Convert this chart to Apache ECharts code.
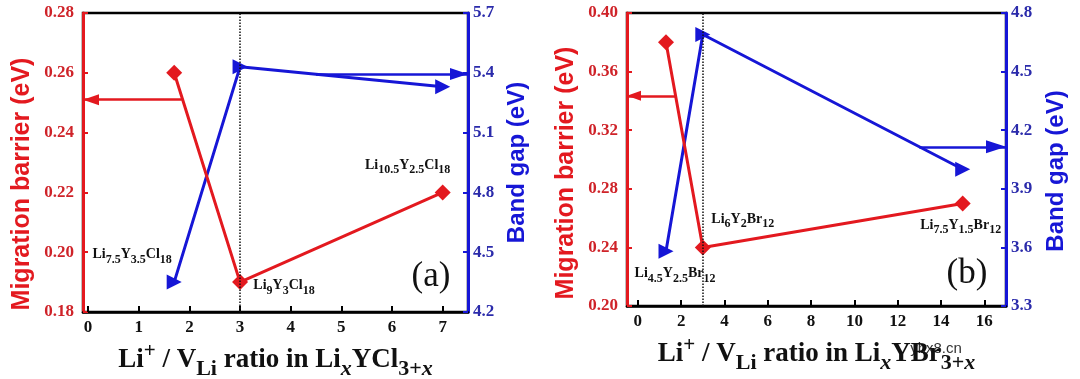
<!DOCTYPE html>
<html><head><meta charset="utf-8">
<script src="https://cdn.jsdelivr.net/npm/echarts@6/dist/echarts.min.js"></script>
<style>html,body{margin:0;padding:0;background:#fff}#c{width:1080px;height:379px}</style>
</head><body><div id="c"></div>
<script>
// ---------- Panel (a): LixYCl3+x ----------
const ratioA = [1.7, 3, 7];
const barrierA = [0.26, 0.19, 0.22];
const gapA = [4.35, 5.43, 5.33];
const compoundsA = [
  [['Li', '7.5'], ['Y', '3.5'], ['Cl', '18']],
  [['Li', '9'], ['Y', '3'], ['Cl', '18']],
  [['Li', '10.5'], ['Y', '2.5'], ['Cl', '18']]
];
const arrowBarrierA = [1.85, 0.251];   // start ratio, barrier level (points to left axis)
const arrowGapA = [4.5, 5.394];        // start ratio, gap level (points to right axis)
const xRangeA = [-0.1, 7.5];
const xTicksA = [0, 1, 2, 3, 4, 5, 6, 7];
const barrierTicksA = [0.18, 0.20, 0.22, 0.24, 0.26, 0.28];
const gapTicksA = [4.2, 4.5, 4.8, 5.1, 5.4, 5.7];

// ---------- Panel (b): LixYBr3+x ----------
const ratioB = [1.3, 3, 15];
const barrierB = [0.38, 0.24, 0.27];
const gapB = [3.58, 4.69, 4.00];
const compoundsB = [
  [['Li', '4.5'], ['Y', '2.5'], ['Br', '12']],
  [['Li', '6'], ['Y', '2'], ['Br', '12']],
  [['Li', '7.5'], ['Y', '1.5'], ['Br', '12']]
];
const arrowBarrierB = [1.72, 0.3435];
const arrowGapB = [13, 4.115];
const xRangeB = [-0.5, 17];
const xTicksB = [0, 2, 4, 6, 8, 10, 12, 14, 16];
const barrierTicksB = [0.20, 0.24, 0.28, 0.32, 0.36, 0.40];
const gapTicksB = [3.3, 3.6, 3.9, 4.2, 4.5, 4.8];

const dividerRatio = 3;
const panelTags = ['(a)', '(b)'];
const xTitleHalide = ['Cl', 'Br'];
const yTitleLeft = 'Migration barrier (eV)';
const yTitleRight = 'Band gap (eV)';
const watermark = 'ybx8.cn';

// ---------- styling ----------
const RED = '#e3191f', BLUE = '#1616d6';
const RED_TXT = '#cf2329', BLUE_TXT = '#2b2bab';
const SERIF = "'Liberation Serif','DejaVu Serif',serif";
const SANS = "'Liberation Sans',Arial,sans-serif";

function compoundRich(tokens) {
  return tokens.map(([b, s]) => `{n|${b}}{s|${s}}`).join('');
}
const compRich = {
  n: {fontFamily: SERIF, fontWeight: 'bold', fontSize: 14, color: '#111', lineHeight: 15, verticalAlign: 'bottom', padding: [0, 0, 4, 0]},
  s: {fontFamily: SERIF, fontWeight: 'bold', fontSize: 12, color: '#111', lineHeight: 13, verticalAlign: 'bottom'}
};
function compLabel(tokens, off) {
  return {show: true, position: 'inside', offset: off, formatter: compoundRich(tokens), rich: compRich, align: 'center', verticalAlign: 'middle'};
}
function xTitle(hal) {
  return `{n|Li}{sup|+}{n| / V}{sub|Li}{n| ratio in Li}{subi|x}{n|Y${hal}}{sub|3+}{subi|x}`;
}
const xTitleRich = {
  n: {fontFamily: SERIF, fontWeight: 'bold', fontSize: 27, color: '#111', lineHeight: 27, verticalAlign: 'bottom', padding: [5, 0, 8, 0]},
  sup: {fontFamily: SERIF, fontWeight: 'bold', fontSize: 21, color: '#111', lineHeight: 18, verticalAlign: 'bottom', padding: [0, 0, 20, 0]},
  sub: {fontFamily: SERIF, fontWeight: 'bold', fontSize: 22, color: '#111', lineHeight: 22, verticalAlign: 'bottom', padding: [0, 0, 2, 0]},
  subi: {fontFamily: SERIF, fontWeight: 'bold', fontStyle: 'italic', fontSize: 22, color: '#111', lineHeight: 22, verticalAlign: 'bottom', padding: [0, 0, 2, 0]}
};

const panels = [
  {grid: {left: 83, right: 612, top: 13, bottom: 67}, ratio: ratioA, barrier: barrierA, gap: gapA, comps: compoundsA,
   arrB: arrowBarrierA, arrG: arrowGapA, xr: xRangeA, xt: xTicksA, bt: barrierTicksA, gt: gapTicksA,
   labelAt: [['gap', 0, [-42, -24]], ['bar', 1, [44, 7]], ['bar', 2, [-35, -24]]],
   leftPad: [0, 43, 0, 0], rightPad: [0, 0, 0, 0], leftGap: 48, rightGap: 37, hal: xTitleHalide[0],
   barHead: [11, 16], gapHead: [12, 18]},
  {grid: {left: 627, right: 74, top: 13, bottom: 73}, ratio: ratioB, barrier: barrierB, gap: gapB, comps: compoundsB,
   arrB: arrowBarrierB, arrG: arrowGapB, xr: xRangeB, xt: xTicksB, bt: barrierTicksB, gt: gapTicksB,
   labelAt: [['gap', 0, [9, 26]], ['bar', 1, [40, -25]], ['bar', 2, [-2, 25]]],
   leftPad: [0, 27, 0, 0], rightPad: [0, 23, 0, 0], leftGap: 48, rightGap: 38, hal: xTitleHalide[1],
   barHead: [10, 14], gapHead: [13, 20]}
];

const grids = [], xAxes = [], yAxes = [], series = [];
panels.forEach((p, i) => {
  grids.push(Object.assign({show: true, borderColor: '#000', borderWidth: 2.5, backgroundColor: 'transparent',
    containLabel: false, outerBoundsMode: 'none'}, p.grid));
  xAxes.push({
    type: 'value', gridIndex: i, min: p.xr[0], max: p.xr[1],
    axisLine: {onZero: false, lineStyle: {color: '#000', width: 2.5}},
    axisTick: {inside: true, length: 6, lineStyle: {color: '#000', width: 2}, customValues: p.xt},
    axisLabel: {customValues: p.xt, margin: 7, color: '#111', fontFamily: SERIF, fontWeight: 'bold', fontSize: 17},
    splitLine: {show: false},
    name: xTitle(p.hal), nameLocation: 'middle', nameGap: 28,
    nameTextStyle: {rich: xTitleRich}
  });
  yAxes.push({
    type: 'value', gridIndex: i, position: 'left', min: p.bt[0], max: p.bt[p.bt.length - 1],
    axisLine: {show: true, onZero: false, lineStyle: {color: RED, width: 3}},
    axisTick: {inside: true, length: 5, lineStyle: {color: RED, width: 2}, customValues: p.bt},
    axisLabel: {customValues: p.bt, margin: 9, color: RED_TXT, fontFamily: SERIF, fontWeight: 'bold', fontSize: 17, formatter: v => v.toFixed(2)},
    splitLine: {show: false},
    name: yTitleLeft, nameLocation: 'middle', nameRotate: 90, nameGap: p.leftGap,
    nameTextStyle: {color: RED, fontFamily: SANS, fontWeight: 'bold', fontSize: 25, padding: p.leftPad}
  });
  yAxes.push({
    type: 'value', gridIndex: i, position: 'right', min: p.gt[0], max: p.gt[p.gt.length - 1],
    axisLine: {show: true, onZero: false, lineStyle: {color: BLUE, width: 3}},
    axisTick: {inside: true, length: 5, lineStyle: {color: BLUE, width: 2}, customValues: p.gt},
    axisLabel: {customValues: p.gt, margin: 5, color: BLUE_TXT, fontFamily: SERIF, fontWeight: 'bold', fontSize: 17, formatter: v => v.toFixed(1)},
    splitLine: {show: false},
    name: yTitleRight, nameLocation: 'middle', nameRotate: 90, nameGap: p.rightGap,
    nameTextStyle: {color: BLUE, fontFamily: SANS, fontWeight: 'bold', fontSize: 24, padding: p.rightPad}
  });
  const lab = (kind, k) => {
    const hit = p.labelAt.findIndex(a => a[0] === kind && a[1] === k);
    return hit >= 0 ? compLabel(p.comps[hit], p.labelAt[hit][2]) : {show: false};
  };
  series.push({
    type: 'line', xAxisIndex: i, yAxisIndex: 2 * i, z: 4,
    data: p.ratio.map((x, k) => ({value: [x, p.barrier[k]], label: lab('bar', k)})),
    symbol: 'diamond', symbolSize: 16, showSymbol: true,
    lineStyle: {color: RED, width: 3}, itemStyle: {color: RED},
    markLine: {
      silent: true, symbol: 'none', label: {show: false}, animation: false,
      data: [
        {xAxis: dividerRatio, lineStyle: {type: 'dotted', color: '#111', width: 1.5}},
        [{coord: [p.arrB[0], p.arrB[1]], symbol: 'none'},
         {coord: [p.xr[0], p.arrB[1]], symbol: 'triangle', symbolSize: p.barHead, symbolOffset: [0, p.barHead[1] / 2],
          lineStyle: {type: 'solid', color: RED, width: 2.5}}]
      ]
    }
  });
  series.push({
    type: 'line', xAxisIndex: i, yAxisIndex: 2 * i + 1, z: 3,
    data: p.ratio.map((x, k) => ({value: [x, p.gap[k]], label: lab('gap', k)})),
    symbol: 'triangle', symbolRotate: -90, symbolSize: 15, showSymbol: true,
    lineStyle: {color: BLUE, width: 3}, itemStyle: {color: BLUE},
    markLine: {
      silent: true, symbol: 'none', label: {show: false}, animation: false,
      data: [
        [{coord: [p.arrG[0], p.arrG[1]], symbol: 'none'},
         {coord: [p.xr[1], p.arrG[1]], symbol: 'triangle', symbolSize: p.gapHead, symbolOffset: [0, p.gapHead[1] / 2],
          lineStyle: {type: 'solid', color: BLUE, width: 2.5}}]
      ]
    }
  });
});

const chart = echarts.init(document.getElementById('c'), null, {renderer: 'canvas'});
chart.setOption({
  animation: false,
  backgroundColor: '#fff',
  grid: grids, xAxis: xAxes, yAxis: yAxes, series: series,
  graphic: [
    {type: 'text', x: 431, y: 277, style: {text: panelTags[0], font: `35px ${SERIF}`, fill: '#111', textAlign: 'center', textVerticalAlign: 'middle'}},
    {type: 'text', x: 967, y: 274, style: {text: panelTags[1], font: `35px ${SERIF}`, fill: '#111', textAlign: 'center', textVerticalAlign: 'middle'}},
    {type: 'text', x: 936, y: 349, style: {text: watermark, font: `15px ${SANS}`, fill: '#333', textAlign: 'center', textVerticalAlign: 'middle'}}
  ]
});
</script></body></html>
